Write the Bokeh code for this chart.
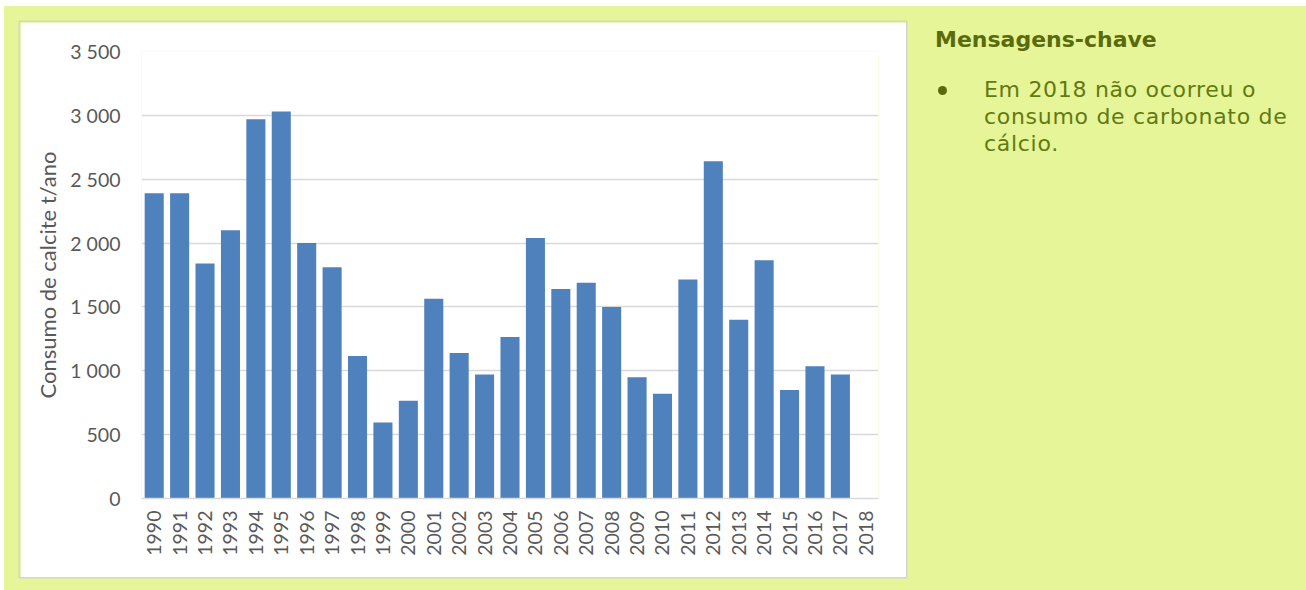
import math

from bokeh.embed import file_html
from bokeh.layouts import column, row
from bokeh.models import CustomJSTickFormatter, Div, FactorRange, FixedTicker, Range1d
from bokeh.plotting import figure
from bokeh.resources import INLINE

# Annual calcite (calcium carbonate) consumption, t/ano
years = ["1990", "1991", "1992", "1993", "1994", "1995", "1996", "1997", "1998",
         "1999", "2000", "2001", "2002", "2003", "2004", "2005", "2006", "2007",
         "2008", "2009", "2010", "2011", "2012", "2013", "2014", "2015", "2016",
         "2017", "2018"]
consumption = [2390, 2390, 1840, 2100, 2970, 3030, 2000, 1810, 1115,
               595, 765, 1565, 1140, 970, 1265, 2040, 1640, 1690,
               1500, 950, 820, 1715, 2640, 1400, 1865, 850, 1035,
               970, 0]
y_ticks = [0, 500, 1000, 1500, 2000, 2500, 3000, 3500]

y_label = "Consumo de calcite t/ano"
panel_title = "Mensagens-chave"
panel_lines = ["Em 2018 não ocorreu o", "consumo de carbonato de", "cálcio."]

PAGE_GREEN = "#E6F598"
BAR_BLUE = "#4F81BD"
GRID_GREY = "#D9D9D9"
LABEL_GREY = "#595959"
TITLE_OLIVE = "#5A6B0C"
TEXT_OLIVE = "#627A12"
CHART_FONT = "Lato"

# white chart card
p = figure(
    width=886, height=555,
    x_range=FactorRange(*years, range_padding=0),
    y_range=Range1d(0, 3500),
    output_backend="svg", toolbar_location=None, title=None,
    min_border_left=121, min_border_right=28,
    min_border_top=29, min_border_bottom=79,
    border_fill_color="white", background_fill_color="white",
    outline_line_color=None,
    margin=(16, 0, 13, 16),
    styles={"box-shadow": "0 0 0 1.5px #D4D4D4"},
)

p.vbar(x=years, top=consumption, width=0.75, fill_color=BAR_BLUE, line_color=None)

# y axis: grey labels with a space as thousands separator, no line or ticks
p.yaxis.ticker = FixedTicker(ticks=y_ticks)
p.yaxis.formatter = CustomJSTickFormatter(code="""
    const v = Math.round(tick);
    if (v >= 1000) {
        return Math.floor(v / 1000) + " " + String(v % 1000).padStart(3, "0");
    }
    return String(v);
""")
p.yaxis.axis_line_color = None
p.yaxis.major_tick_line_color = None
p.yaxis.minor_tick_line_color = None
p.yaxis.major_tick_out = 0
p.yaxis.major_label_standoff = 21
p.yaxis.major_label_text_font = CHART_FONT
p.yaxis.major_label_text_font_size = "19.5px"
p.yaxis.major_label_text_color = LABEL_GREY
p.yaxis.axis_label = y_label
p.yaxis.axis_label_text_font = CHART_FONT
p.yaxis.axis_label_text_font_size = "22px"
p.yaxis.axis_label_text_font_style = "normal"
p.yaxis.axis_label_text_color = LABEL_GREY
p.yaxis.axis_label_standoff = 6

# x axis: vertical year labels under a grey baseline
p.xaxis.axis_line_color = GRID_GREY
p.xaxis.axis_line_width = 1.3
p.xaxis.major_tick_line_color = None
p.xaxis.minor_tick_line_color = None
p.xaxis.major_tick_out = 0
p.xaxis.major_label_standoff = 12
p.xaxis.major_label_orientation = math.pi / 2
p.xaxis.major_label_text_font = CHART_FONT
p.xaxis.major_label_text_font_size = "19.5px"
p.xaxis.major_label_text_color = LABEL_GREY

p.xgrid.grid_line_color = None
p.ygrid.grid_line_color = GRID_GREY
p.ygrid.grid_line_width = 1.3

# key-messages panel on the right
panel_html = f"""
<div style="position:relative;width:400px;height:584px;
            font-family:'DejaVu Sans',sans-serif;overflow:hidden;">
  <div style="position:absolute;left:29px;top:23px;font-size:22px;line-height:22px;
              font-weight:bold;color:{TITLE_OLIVE};white-space:nowrap;">{panel_title}</div>
  <div style="position:absolute;left:32px;top:80px;width:9px;height:9px;
              border-radius:50%;background:{TITLE_OLIVE};"></div>
  <div style="position:absolute;left:78px;top:70px;font-size:22px;line-height:27px;
              letter-spacing:0.7px;color:{TEXT_OLIVE};white-space:nowrap;">{"<br>".join(panel_lines)}</div>
</div>
"""
panel = Div(text=panel_html, width=400, height=584, margin=0)

layout = column(row(p, panel, spacing=0), margin=(6, 0, 0, 4),
                styles={"background-color": PAGE_GREEN})

with open("out.html", "w") as f:
    f.write(file_html(layout, INLINE))
